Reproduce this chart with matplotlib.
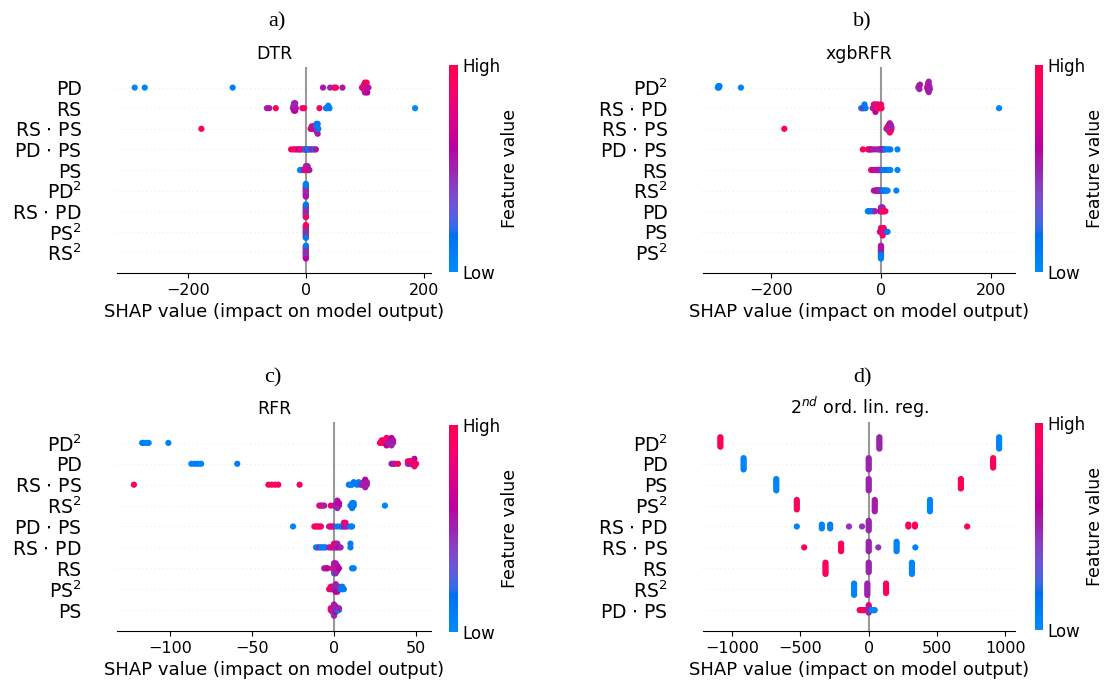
import numpy as np
import matplotlib
matplotlib.use("Agg")
import matplotlib.pyplot as plt
from matplotlib.colors import LinearSegmentedColormap, Normalize
from matplotlib.cm import ScalarMappable

# ---- data (SHAP value per sample, feature value 0=low .. 1=high) ----
dtr_features = ["PD", "RS", "RS $\\cdot$ PS", "PD $\\cdot$ PS", "PS",
                "PD$^2$", "RS $\\cdot$ PD", "PS$^2$", "RS$^2$"]
dtr_shap = [
    [-290, -273, -124, 29, 41, 48, 51, 62, 95, 97, 98, 99, 100, 100, 101, 101, 102, 103, 104, 106],
    [-66, -62, -51, -22, -21, -20, -20, -19, -19, -18, -18, -17, -6, -3, 23, 34, 36, 38, 40, 185],
    [-177, 8, 9, 10, 11, 12, 13, 14, 15, 16, 17, 17, 18, 18, 19, 19, 19, 20, 20, 21],
    [-25, -21, -18, -15, -12, -10, -8, -4, -2, -1, 0, 1, 2, 4, 6, 8, 10, 13, 15, 17],
    [-10, -8, -7, -6, -5, -4, -3, -2, -1, 0, 0, 1, 1, 2, 2, 3, 3, 4, 5, 6],
    [0, 0, 0, 0, 0, 0, 0, 0, 0, 0, 0, 0, 0, 0, 0, 0, 0, 0, 0, 0],
    [0, 0, 0, 0, 0, 0, 0, 0, 0, 0, 0, 0, 0, 0, 0, 0, 0, 0, 0, 0],
    [0, 0, 0, 0, 0, 0, 0, 0, 0, 0, 0, 0, 0, 0, 0, 0, 0, 0, 0, 0],
    [0, 0, 0, 0, 0, 0, 0, 0, 0, 0, 0, 0, 0, 0, 0, 0, 0, 0, 0, 0],
]
dtr_color = [
    [0.02, 0.05, 0.08, 0.55, 0.5, 0.95, 0.9, 0.55, 0.9, 0.55, 0.95, 0.6, 0.92, 0.5, 0.96, 0.55, 0.9, 0.98, 0.6, 0.55],
    [0.5, 0.55, 0.95, 0.5, 0.55, 0.6, 0.5, 0.55, 0.45, 0.6, 0.5, 0.55, 0.95, 0.9, 0.95, 0.1, 0.05, 0.1, 0.08, 0.02],
    [0.95, 0.95, 0.9, 0.92, 0.6, 0.55, 0.5, 0.55, 0.6, 0.5, 0.55, 0.45, 0.5, 0.1, 0.55, 0.08, 0.5, 0.12, 0.55, 0.1],
    [0.95, 0.9, 0.95, 0.92, 0.6, 0.55, 0.9, 0.95, 0.5, 0.1, 0.08, 0.12, 0.5, 0.1, 0.05, 0.15, 0.55, 0.5, 0.1, 0.55],
    [0.05, 0.08, 0.1, 0.05, 0.12, 0.1, 0.5, 0.55, 0.95, 0.9, 0.5, 0.95, 0.92, 0.55, 0.95, 0.9, 0.5, 0.95, 0.9, 0.55],
    [0.1, 0.55, 0.9, 0.05, 0.5, 0.95, 0.1, 0.6, 0.9, 0.08, 0.5, 0.95, 0.1, 0.55, 0.9, 0.05, 0.5, 0.1, 0.55, 0.08],
    [0.9, 0.1, 0.55, 0.95, 0.05, 0.5, 0.9, 0.1, 0.6, 0.95, 0.08, 0.5, 0.92, 0.1, 0.55, 0.9, 0.05, 0.5, 0.95, 0.1],
    [0.1, 0.9, 0.5, 0.05, 0.95, 0.55, 0.1, 0.9, 0.5, 0.08, 0.92, 0.6, 0.1, 0.95, 0.5, 0.05, 0.9, 0.55, 0.1, 0.95],
    [0.55, 0.1, 0.9, 0.5, 0.05, 0.95, 0.6, 0.1, 0.9, 0.5, 0.08, 0.92, 0.55, 0.1, 0.95, 0.5, 0.05, 0.9, 0.6, 0.1],
]

xgb_features = ["PD$^2$", "RS $\\cdot$ PD", "RS $\\cdot$ PS", "PD $\\cdot$ PS", "RS",
                "RS$^2$", "PD", "PS", "PS$^2$"]
xgb_shap = [
    [-297, -296, -295, -294, -255, 68, 69, 70, 71, 84, 85, 85, 86, 86, 86, 87, 87, 88, 88, 89],
    [-36, -34, -32, -30, -28, -15, -14, -13, -12, -11, -10, -9, -8, -6, -5, -3, -2, 0, 1, 215],
    [-176, 10, 11, 12, 13, 13, 14, 14, 15, 15, 15, 16, 16, 16, 17, 17, 18, 18, 19, 19],
    [-33, -24, -22, -20, -18, -15, -10, -5, -3, -1, 0, 1, 2, 3, 5, 7, 10, 14, 17, 30],
    [-18, -15, -13, -11, -9, -8, -7, -6, -5, -4, -3, -2, -1, 0, 4, 8, 12, 15, 17, 30],
    [-13, -10, -9, -8, -7, -6, -5, -4, -3, -2, -1, 0, 1, 2, 4, 6, 8, 10, 12, 28],
    [-24, -22, -20, -18, -15, -13, -11, -2, -1, 0, 0, 1, 2, 2, 3, 3, 4, 5, 6, 8],
    [-2, -1, 0, 0, 1, 1, 2, 2, 3, 3, 3, 4, 4, 5, 5, 6, 7, 8, 9, 12],
    [0, 0, 0, 0, 0, 0, 0, 0, 0, 0, 0, 0, 0, 0, 0, 0, 0, 0, 0, 0],
]
xgb_color = [
    [0.05, 0.08, 0.03, 0.1, 0.05, 0.5, 0.55, 0.5, 0.55, 0.5, 0.55, 0.95, 0.5, 0.6, 0.9, 0.55, 0.5, 0.6, 0.55, 0.5],
    [0.08, 0.05, 0.5, 0.1, 0.12, 0.5, 0.95, 0.55, 0.5, 0.9, 0.6, 0.55, 0.5, 0.95, 0.9, 0.92, 0.95, 0.9, 0.95, 0.05],
    [0.95, 0.5, 0.55, 0.9, 0.5, 0.95, 0.55, 0.9, 0.5, 0.95, 0.1, 0.5, 0.92, 0.55, 0.9, 0.5, 0.95, 0.55, 0.9, 0.5],
    [0.95, 0.9, 0.95, 0.92, 0.6, 0.5, 0.55, 0.5, 0.55, 0.5, 0.45, 0.55, 0.5, 0.6, 0.5, 0.15, 0.1, 0.08, 0.1, 0.05],
    [0.95, 0.9, 0.6, 0.55, 0.5, 0.55, 0.9, 0.5, 0.55, 0.5, 0.6, 0.5, 0.55, 0.5, 0.1, 0.08, 0.12, 0.1, 0.05, 0.05],
    [0.55, 0.5, 0.55, 0.6, 0.5, 0.55, 0.5, 0.6, 0.55, 0.5, 0.55, 0.5, 0.1, 0.55, 0.1, 0.08, 0.12, 0.1, 0.05, 0.05],
    [0.05, 0.1, 0.08, 0.12, 0.1, 0.05, 0.5, 0.55, 0.5, 0.6, 0.55, 0.5, 0.95, 0.55, 0.9, 0.5, 0.95, 0.9, 0.95, 0.92],
    [0.55, 0.9, 0.5, 0.95, 0.92, 0.55, 0.95, 0.9, 0.5, 0.95, 0.9, 0.55, 0.95, 0.9, 0.92, 0.95, 0.9, 0.95, 0.5, 0.1],
    [0.1, 0.5, 0.08, 0.55, 0.1, 0.5, 0.12, 0.55, 0.1, 0.5, 0.08, 0.55, 0.1, 0.5, 0.12, 0.55, 0.1, 0.5, 0.08, 0.55],
]

rfr_features = ["PD$^2$", "PD", "RS $\\cdot$ PS", "RS$^2$", "PD $\\cdot$ PS",
                "RS $\\cdot$ PD", "RS", "PS$^2$", "PS"]
rfr_shap = [
    [-117, -116, -114, -113, -101, 28, 29, 30, 30, 31, 31, 32, 32, 33, 34, 34, 35, 35, 36, 36],
    [-87, -85, -83, -81, -59, 35, 36, 37, 39, 45, 45, 46, 46, 47, 47, 48, 48, 49, 49, 50],
    [-122, -40, -38, -36, -34, -21, 9, 10, 11, 12, 14, 15, 16, 17, 18, 18, 19, 19, 20, 20],
    [-9, -8, -7, -6, -2, 0, 1, 2, 2, 2, 2, 3, 3, 10, 11, 11, 11, 12, 12, 31],
    [-25, -12, -11, -10, -9, -8, -3, -2, -1, 0, 2, 4, 5, 6, 6, 7, 7, 8, 10, 11],
    [-11, -10, -9, -8, -7, -6, -5, -3, -2, -1, 0, 0, 1, 1, 2, 2, 3, 4, 10, 10],
    [-6, -5, -4, -1, 0, 0, 0, 0, 0, 1, 1, 1, 1, 1, 2, 2, 2, 3, 11, 12],
    [-3, -2, -2, -1, -1, 0, 0, 1, 1, 1, 1, 2, 2, 2, 3, 3, 4, 5, 5, 6],
    [-2, -2, -1, -1, -1, 0, 0, 0, 0, 0, 0, 0, 1, 1, 1, 1, 2, 2, 3, 3],
]
rfr_color = [
    [0.05, 0.08, 0.1, 0.05, 0.08, 0.95, 0.9, 0.95, 0.92, 0.9, 0.95, 0.6, 0.9, 0.55, 0.5, 0.55, 0.5, 0.6, 0.5, 0.55],
    [0.05, 0.08, 0.1, 0.05, 0.08, 0.5, 0.55, 0.5, 0.95, 0.55, 0.9, 0.5, 0.95, 0.55, 0.92, 0.5, 0.95, 0.9, 0.6, 0.95],
    [0.95, 0.92, 0.95, 0.9, 0.95, 0.9, 0.08, 0.1, 0.05, 0.1, 0.12, 0.1, 0.15, 0.5, 0.55, 0.5, 0.55, 0.6, 0.5, 0.55],
    [0.95, 0.55, 0.9, 0.5, 0.95, 0.55, 0.5, 0.55, 0.6, 0.5, 0.55, 0.5, 0.6, 0.1, 0.08, 0.05, 0.1, 0.12, 0.08, 0.05],
    [0.05, 0.95, 0.9, 0.95, 0.92, 0.9, 0.55, 0.95, 0.9, 0.5, 0.1, 0.12, 0.1, 0.55, 0.5, 0.55, 0.9, 0.5, 0.1, 0.08],
    [0.1, 0.05, 0.55, 0.08, 0.1, 0.12, 0.05, 0.55, 0.5, 0.95, 0.55, 0.9, 0.5, 0.95, 0.55, 0.5, 0.6, 0.5, 0.1, 0.08],
    [0.55, 0.5, 0.6, 0.95, 0.1, 0.5, 0.92, 0.55, 0.1, 0.95, 0.5, 0.9, 0.55, 0.5, 0.95, 0.55, 0.5, 0.6, 0.1, 0.08],
    [0.95, 0.9, 0.95, 0.5, 0.92, 0.55, 0.5, 0.55, 0.5, 0.6, 0.5, 0.55, 0.5, 0.6, 0.55, 0.5, 0.1, 0.08, 0.1, 0.12],
    [0.95, 0.9, 0.95, 0.5, 0.9, 0.1, 0.55, 0.5, 0.95, 0.1, 0.55, 0.5, 0.1, 0.55, 0.6, 0.5, 0.1, 0.55, 0.08, 0.5],
]

lin_features = ["PD$^2$", "PD", "PS", "PS$^2$", "RS $\\cdot$ PD",
                "RS $\\cdot$ PS", "RS", "RS$^2$", "PD $\\cdot$ PS"]
lin_shap = [
    [-1085, -1085, -1085, -1085, -1085, -1085, 78, 78, 78, 78, 78, 78, 78, 954, 954, 954, 954, 954, 954, 954],
    [-915, -915, -915, -915, -915, -915, -915, 0, 0, 0, 0, 0, 0, 0, 910, 910, 910, 910, 910, 910],
    [-676, -676, -676, -676, -676, -676, -676, 0, 0, 0, 0, 0, 0, 0, 674, 674, 674, 674, 674, 674],
    [-526, -526, -526, -526, -526, -526, 44, 44, 44, 44, 44, 44, 44, 448, 448, 448, 448, 448, 448, 448],
    [-526, -343, -343, -343, -282, -282, -282, -144, -49, 0, 0, 0, 0, 0, 0, 290, 290, 338, 338, 720],
    [-472, -202, -202, -202, -202, -202, 0, 0, 0, 0, 0, 0, 70, 204, 204, 204, 204, 204, 204, 341],
    [-316, -316, -316, -316, -316, -316, -316, 0, 0, 0, 0, 0, 0, 316, 316, 316, 316, 316, 316, 316],
    [-107, -107, -107, -107, -107, -107, -107, -10, -10, -10, -10, -10, -10, -10, 127, 127, 127, 127, 127, 127],
    [-66, -58, -50, -42, -34, -27, -12, -2, -1, 0, 0, 0, 0, 1, 1, 2, 22, 30, 38, 44],
]
lin_color = [
    [0.95, 0.95, 0.95, 0.95, 0.95, 0.95, 0.5, 0.5, 0.5, 0.5, 0.5, 0.5, 0.5, 0.05, 0.05, 0.05, 0.05, 0.05, 0.05, 0.05],
    [0.05, 0.05, 0.05, 0.05, 0.05, 0.05, 0.05, 0.5, 0.5, 0.5, 0.5, 0.5, 0.5, 0.5, 0.95, 0.95, 0.95, 0.95, 0.95, 0.95],
    [0.05, 0.05, 0.05, 0.05, 0.05, 0.05, 0.05, 0.5, 0.5, 0.5, 0.5, 0.5, 0.5, 0.5, 0.95, 0.95, 0.95, 0.95, 0.95, 0.95],
    [0.95, 0.95, 0.95, 0.95, 0.95, 0.95, 0.52, 0.52, 0.52, 0.52, 0.52, 0.52, 0.52, 0.05, 0.05, 0.05, 0.05, 0.05, 0.05, 0.05],
    [0.05, 0.05, 0.05, 0.05, 0.08, 0.08, 0.08, 0.45, 0.45, 0.5, 0.5, 0.5, 0.5, 0.5, 0.5, 0.95, 0.95, 0.95, 0.95, 0.95],
    [0.95, 0.95, 0.95, 0.95, 0.95, 0.95, 0.5, 0.5, 0.5, 0.5, 0.5, 0.5, 0.45, 0.05, 0.05, 0.05, 0.05, 0.05, 0.05, 0.05],
    [0.95, 0.95, 0.95, 0.95, 0.95, 0.95, 0.95, 0.5, 0.5, 0.5, 0.5, 0.5, 0.5, 0.05, 0.05, 0.05, 0.05, 0.05, 0.05, 0.05],
    [0.05, 0.05, 0.05, 0.05, 0.05, 0.05, 0.05, 0.5, 0.5, 0.5, 0.5, 0.5, 0.5, 0.5, 0.95, 0.95, 0.95, 0.95, 0.95, 0.95],
    [0.95, 0.95, 0.95, 0.95, 0.95, 0.95, 0.9, 0.5, 0.95, 0.5, 0.55, 0.5, 0.9, 0.5, 0.55, 0.5, 0.05, 0.05, 0.05, 0.05],
]


# shap's red_blue colormap (interpolated in LCH space)
def lch2rgb(l, c, h):
    a = c * np.cos(h)
    b = c * np.sin(h)
    fy = (l + 16) / 116
    fx = fy + a / 500
    fz = fy - b / 200

    def finv(t):
        return np.where(t > 6 / 29, t ** 3, 3 * (6 / 29) ** 2 * (t - 4 / 29))

    xyz = np.vstack([0.95047 * finv(fx), finv(fy), 1.08883 * finv(fz)])
    m = np.array([[3.2406, -1.5372, -0.4986],
                  [-0.9689, 1.8758, 0.0415],
                  [0.0557, -0.2040, 1.0570]])
    rgb = np.clip(m @ xyz, 0, None)
    rgb = np.where(rgb <= 0.0031308, 12.92 * rgb, 1.055 * rgb ** (1 / 2.4) - 0.055)
    return np.clip(rgb, 0, 1).T


nsteps = 100
l_vals = np.r_[np.linspace(54, 40, nsteps // 2), np.linspace(40, 54, nsteps // 2)]
c_vals = np.linspace(70, 90, nsteps)
h_vals = np.linspace(4.6588, 0.35470565 + 2 * np.pi, nsteps)
red_blue = LinearSegmentedColormap.from_list("red_blue", lch2rgb(l_vals, c_vals, h_vals))


def beeswarm_offsets(vals, row_height=0.4):
    vals = np.asarray(vals, dtype=float)
    n = len(vals)
    span = vals.max() - vals.min()
    quant = np.round(100 * (vals - vals.min()) / (span + 1e-8))
    inds = np.argsort(quant, kind="stable")
    ys = np.zeros(n)
    layer, last = 0, -1
    for i in inds:
        if quant[i] != last:
            layer = 0
        ys[i] = np.ceil(layer / 2) * ((layer % 2) * 2 - 1)
        layer += 1
        last = quant[i]
    ys *= 0.9 * (row_height / np.max(ys + 1))
    return ys


W, H = 1108, 686
fig = plt.figure(figsize=(W / 100, H / 100), dpi=100)


def panel(rect, cbrect, features, shap_vals, colors, xlim, xticks, title, letter, letter_xy):
    ax = fig.add_axes([rect[0] / W, 1 - rect[3] / H, (rect[2] - rect[0]) / W, (rect[3] - rect[1]) / H])
    n = len(features)
    for i, (vals, cv) in enumerate(zip(shap_vals, colors)):
        pos = n - 1 - i
        ax.axhline(y=pos, color="#cccccc", lw=0.5, dashes=(1, 5), zorder=-1)
        ys = beeswarm_offsets(vals)
        ax.scatter(vals, pos + ys, c=cv, cmap=red_blue, vmin=0, vmax=1,
                   s=20, linewidth=0, zorder=3)
    ax.axvline(x=0, color="#999999", zorder=-1)
    ax.set_xlim(*xlim)
    ax.set_ylim(-1, n)
    ax.set_xticks(xticks)
    ax.set_xticklabels([str(t).replace("-", "\u2212") for t in xticks])
    ax.set_yticks(range(n))
    ax.set_yticklabels(features[::-1], fontsize=13.5)
    ax.xaxis.set_ticks_position("bottom")
    ax.yaxis.set_ticks_position("none")
    for s in ("right", "top", "left"):
        ax.spines[s].set_visible(False)
    ax.tick_params("x", labelsize=11.5)
    ax.tick_params("y", length=22, width=0.5, which="major")
    ax.set_xlabel("SHAP value (impact on model output)", fontsize=13)
    ax.set_title(title, fontsize=12.5, pad=6)

    cax = fig.add_axes([cbrect[0] / W, 1 - cbrect[3] / H, (cbrect[2] - cbrect[0]) / W, (cbrect[3] - cbrect[1]) / H])
    sm = ScalarMappable(norm=Normalize(0, 1), cmap=red_blue)
    cb = fig.colorbar(sm, cax=cax, ticks=[0, 1])
    cb.set_ticklabels(["Low", "High"])
    cb.set_label("Feature value", size=12.5, labelpad=0)
    cb.ax.tick_params(labelsize=12, length=0)
    cb.outline.set_visible(False)

    fig.text(letter_xy[0] / W, 1 - letter_xy[1] / H, letter, ha="center", va="center",
             fontsize=16, family="Liberation Serif")


panel((117, 67, 431, 273), (449, 65, 458, 272), dtr_features, dtr_shap, dtr_color,
      (-320, 212), [-200, 0, 200], "DTR", "a)", (277, 22))
panel((703, 67, 1015, 273), (1035, 65, 1043, 272), xgb_features, xgb_shap, xgb_color,
      (-324, 244), [-200, 0, 200], "xgbRFR", "b)", (862, 22))
panel((117, 422, 431, 631), (449, 425, 458, 632), rfr_features, rfr_shap, rfr_color,
      (-132.3, 59.1), [-100, -50, 0, 50], "RFR", "c)", (273, 378))
panel((703, 422, 1015, 631), (1035, 423, 1043, 630), lin_features, lin_shap, lin_color,
      (-1212, 1070), [-1000, -500, 0, 500, 1000], "2$^{nd}$ ord. lin. reg.", "d)", (862, 378))

fig.savefig("out.png", dpi=100)
